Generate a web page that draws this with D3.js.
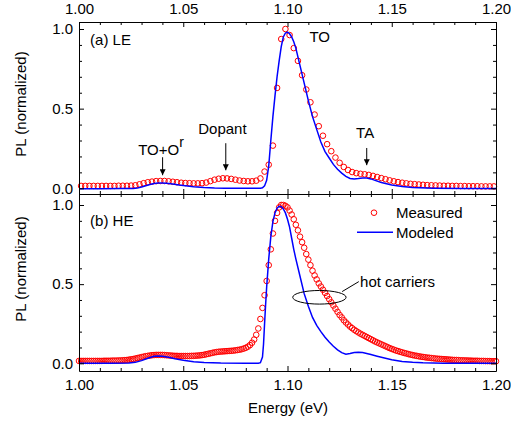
<!DOCTYPE html>
<html>
<head>
<meta charset="utf-8">
<script src="https://cdn.jsdelivr.net/npm/d3@7"></script>
<style>
  body { margin: 0; background: #fff; }
  svg text { font-family: "Liberation Sans", Arial, sans-serif; font-size: 15px; fill: #000; }
</style>
</head>
<body>
<div id="chart"></div>
<script>
// ---- data ----
// panel (a) LE, measured: one point every 2 meV starting at 1.001 eV
const measuredAStart = 1.001
const measuredAStep = 0.002
const measuredA = [
  0.015, 0.015, 0.015, 0.015, 0.015, 0.015, 0.015, 0.015, 0.015, 0.016,
  0.016, 0.016, 0.017, 0.019, 0.025, 0.032, 0.038, 0.042, 0.045, 0.046,
  0.046, 0.044, 0.041, 0.038, 0.035, 0.033, 0.032, 0.031, 0.031, 0.032,
  0.036, 0.045, 0.054, 0.060, 0.063, 0.062, 0.059, 0.054, 0.049, 0.046,
  0.044, 0.044, 0.048, 0.062, 0.105, 0.148, 0.268, 0.630, 0.937, 1.000,
  0.962, 0.880, 0.800, 0.710, 0.620, 0.540, 0.463, 0.390, 0.330, 0.277,
  0.233, 0.193, 0.160, 0.134, 0.115, 0.102, 0.095, 0.091, 0.088, 0.084,
  0.078, 0.071, 0.064, 0.057, 0.050, 0.044, 0.039, 0.035, 0.031, 0.028,
  0.026, 0.024, 0.022, 0.020, 0.019, 0.018, 0.017, 0.016, 0.016, 0.015,
  0.015, 0.014, 0.014, 0.013, 0.013, 0.013, 0.012, 0.012, 0.012, 0.012
]

// panel (a) LE, modeled
const modelAEnergy = [
  1.000, 1.010, 1.020, 1.026, 1.028, 1.030, 1.032, 1.034, 1.036, 1.038,
  1.040, 1.042, 1.045, 1.048, 1.051, 1.055, 1.060, 1.065, 1.070, 1.080,
  1.087, 1.088, 1.089, 1.090, 1.091, 1.092, 1.093, 1.094, 1.095, 1.096,
  1.097, 1.098, 1.099, 1.100, 1.101, 1.102, 1.103, 1.104, 1.106, 1.108,
  1.110, 1.112, 1.114, 1.116, 1.118, 1.120, 1.122, 1.124, 1.126, 1.128,
  1.130, 1.132, 1.134, 1.136, 1.138, 1.140, 1.142, 1.145, 1.150, 1.155,
  1.160, 1.170, 1.185, 1.200
]
const modelA = [
  -0.003, -0.003, -0.002, -0.001, 0.002, 0.008, 0.016, 0.024, 0.030, 0.033,
  0.034, 0.032, 0.027, 0.021, 0.016, 0.010, 0.005, 0.002, 0.001, 0.000,
  0.000, 0.003, 0.015, 0.050, 0.140, 0.300, 0.450, 0.580, 0.700, 0.800,
  0.890, 0.950, 0.975, 0.980, 0.970, 0.950, 0.920, 0.880, 0.770, 0.660,
  0.550, 0.450, 0.370, 0.290, 0.230, 0.190, 0.150, 0.120, 0.095, 0.075,
  0.062, 0.058, 0.061, 0.065, 0.065, 0.059, 0.050, 0.037, 0.021, 0.011,
  0.005, 0.001, -0.001, -0.002
]

// panel (b) HE, measured: one point every 1 meV starting at 1.000 eV
const measuredBStart = 1.000
const measuredBStep = 0.001
const measuredB = [
  0.015, 0.015, 0.015, 0.015, 0.015, 0.015, 0.015, 0.015, 0.015, 0.015,
  0.015, 0.015, 0.016, 0.016, 0.016, 0.016, 0.017, 0.017, 0.017, 0.018,
  0.018, 0.019, 0.020, 0.021, 0.023, 0.025, 0.027, 0.030, 0.033, 0.036,
  0.039, 0.042, 0.045, 0.047, 0.049, 0.051, 0.052, 0.053, 0.053, 0.053,
  0.053, 0.052, 0.051, 0.050, 0.049, 0.048, 0.047, 0.047, 0.046, 0.046,
  0.046, 0.046, 0.046, 0.046, 0.047, 0.047, 0.048, 0.049, 0.050, 0.052,
  0.054, 0.057, 0.060, 0.063, 0.066, 0.069, 0.071, 0.073, 0.074, 0.075,
  0.076, 0.077, 0.078, 0.079, 0.080, 0.082, 0.084, 0.086, 0.089, 0.093,
  0.098, 0.105, 0.115, 0.130, 0.150, 0.180, 0.220, 0.280, 0.350, 0.430,
  0.520, 0.620, 0.720, 0.820, 0.900, 0.950, 0.985, 1.000, 1.000, 0.995,
  0.985, 0.965, 0.940, 0.910, 0.875, 0.840, 0.800, 0.765, 0.730, 0.690,
  0.655, 0.620, 0.585, 0.555, 0.530, 0.505, 0.485, 0.465, 0.445, 0.425,
  0.405, 0.385, 0.365, 0.345, 0.325, 0.305, 0.290, 0.272, 0.258, 0.245,
  0.232, 0.222, 0.212, 0.203, 0.195, 0.187, 0.180, 0.173, 0.166, 0.159,
  0.152, 0.145, 0.138, 0.132, 0.126, 0.120, 0.114, 0.108, 0.102, 0.096,
  0.091, 0.086, 0.081, 0.077, 0.073, 0.069, 0.065, 0.062, 0.058, 0.055,
  0.052, 0.049, 0.047, 0.044, 0.042, 0.040, 0.038, 0.036, 0.035, 0.033,
  0.032, 0.030, 0.029, 0.028, 0.027, 0.026, 0.025, 0.024, 0.023, 0.022,
  0.021, 0.021, 0.020, 0.019, 0.019, 0.018, 0.018, 0.017, 0.017, 0.016,
  0.016, 0.016, 0.015, 0.015, 0.015, 0.014, 0.014, 0.014, 0.013, 0.013,
  0.013
]

// panel (b) HE, modeled
const modelBEnergy = [
  1.000, 1.015, 1.024, 1.027, 1.030, 1.033, 1.036, 1.038, 1.040, 1.043,
  1.046, 1.050, 1.055, 1.060, 1.068, 1.080, 1.086, 1.087, 1.088, 1.0885,
  1.089, 1.0895, 1.090, 1.091, 1.092, 1.093, 1.094, 1.095, 1.096, 1.097,
  1.098, 1.099, 1.100, 1.101, 1.102, 1.103, 1.104, 1.106, 1.108, 1.110,
  1.112, 1.114, 1.116, 1.118, 1.120, 1.122, 1.124, 1.126, 1.128, 1.130,
  1.132, 1.134, 1.136, 1.138, 1.140, 1.143, 1.146, 1.150, 1.155, 1.160,
  1.165, 1.175, 1.200
]
const modelB = [
  0.000, 0.000, 0.002, 0.006, 0.017, 0.032, 0.044, 0.046, 0.044, 0.038,
  0.029, 0.019, 0.010, 0.005, 0.002, 0.001, 0.001, 0.004, 0.040, 0.120,
  0.250, 0.370, 0.480, 0.660, 0.800, 0.895, 0.950, 0.980, 0.992, 0.990,
  0.975, 0.950, 0.910, 0.860, 0.790, 0.720, 0.660, 0.550, 0.440, 0.360,
  0.290, 0.240, 0.200, 0.165, 0.135, 0.108, 0.085, 0.067, 0.058, 0.062,
  0.068, 0.070, 0.068, 0.062, 0.055, 0.045, 0.035, 0.022, 0.011, 0.006,
  0.003, 0.001, 0.000
]

const xTicks = [1.00, 1.05, 1.10, 1.15, 1.20]
const yTicks = [0.0, 0.5, 1.0]

// ---- layout ----
const W = 511, H = 425
const svg = d3.select("#chart").append("svg")
  .attr("width", W)
  .attr("height", H)

const x = d3.scaleLinear().domain([1.0, 1.2]).range([79, 496])
const xMinor = d3.range(1.0, 1.2001, 0.01).filter(d => Math.abs(d * 20 - Math.round(d * 20)) > 1e-6)
const yMinor = [0.1, 0.2, 0.3, 0.4, 0.6, 0.7, 0.8, 0.9]
const dotR = 2.8

const panelA = {
  top: 22, bottom: 194,
  y: d3.scaleLinear().domain([0, 1]).range([188.3, 29]),
  measured: measuredA.map((v, i) => [measuredAStart + i * measuredAStep, v]),
  model: modelAEnergy.map((e, i) => [e, modelA[i]])
}
const panelB = {
  top: 194, bottom: 371,
  y: d3.scaleLinear().domain([0, 1]).range([363.3, 205]),
  measured: measuredB.map((v, i) => [measuredBStart + i * measuredBStep, v]),
  model: modelBEnergy.map((e, i) => [e, modelB[i]])
}

const font = '"Liberation Sans", Arial, sans-serif'

function styleAxis(g) {
  g.attr("font-size", 15).attr("font-family", font)
  g.selectAll("line").attr("stroke", "#000")
  g.selectAll("path").attr("stroke", "#000")
}

function drawFrame(p, labelTop, labelBottom) {
  const g = svg.append("g")

  // top edge
  g.append("g").attr("transform", `translate(0,${p.top})`)
    .call(d3.axisTop(x).tickValues(xTicks).tickSize(-5).tickSizeOuter(0).tickPadding(8)
      .tickFormat(labelTop ? d3.format(".2f") : ""))
    .call(styleAxis)
  g.append("g").attr("transform", `translate(0,${p.top})`)
    .call(d3.axisTop(x).tickValues(xMinor).tickSize(-3).tickFormat(""))
    .call(a => a.select(".domain").remove())
    .call(styleAxis)

  // bottom edge
  g.append("g").attr("transform", `translate(0,${p.bottom})`)
    .call(d3.axisBottom(x).tickValues(xTicks).tickSize(-5).tickSizeOuter(0).tickPadding(8)
      .tickFormat(labelBottom ? d3.format(".2f") : ""))
    .call(styleAxis)
  g.append("g").attr("transform", `translate(0,${p.bottom})`)
    .call(d3.axisBottom(x).tickValues(xMinor).tickSize(-3).tickFormat(""))
    .call(a => a.select(".domain").remove())
    .call(styleAxis)

  // the y scale stretched to the frame
  const yFrame = p.y.copy().domain([p.y.invert(p.bottom), p.y.invert(p.top)]).range([p.bottom, p.top])

  g.append("g").attr("transform", `translate(${x.range()[0]},0)`)
    .call(d3.axisLeft(yFrame).tickValues(yTicks).tickSize(-5).tickSizeOuter(0).tickPadding(6)
      .tickFormat(d3.format(".1f")))
    .call(styleAxis)
  g.append("g").attr("transform", `translate(${x.range()[0]},0)`)
    .call(d3.axisLeft(yFrame).tickValues(yMinor).tickSize(-3).tickFormat(""))
    .call(a => a.select(".domain").remove())
    .call(styleAxis)

  g.append("g").attr("transform", `translate(${x.range()[1]},0)`)
    .call(d3.axisRight(yFrame).tickValues(yTicks).tickSize(-5).tickSizeOuter(0).tickFormat(""))
    .call(styleAxis)
  g.append("g").attr("transform", `translate(${x.range()[1]},0)`)
    .call(d3.axisRight(yFrame).tickValues(yMinor).tickSize(-3).tickFormat(""))
    .call(a => a.select(".domain").remove())
    .call(styleAxis)
}

function drawSeries(p) {
  const line = d3.line()
    .x(d => x(d[0]))
    .y(d => p.y(d[1]))

  svg.append("g").selectAll("circle")
    .data(p.measured)
    .join("circle")
      .attr("cx", d => x(d[0]))
      .attr("cy", d => p.y(d[1]))
      .attr("r", dotR)
      .attr("fill", "none")
      .attr("stroke", "#ff0000")
      .attr("stroke-width", 1)

  svg.append("path")
    .datum(p.model)
    .attr("fill", "none")
    .attr("stroke", "#0000ff")
    .attr("stroke-width", 1.5)
    .attr("d", line)
}

drawSeries(panelA)
drawSeries(panelB)
drawFrame(panelA, true, false)
drawFrame(panelB, false, true)

// ---- annotations ----
const defs = svg.append("defs")
defs.append("marker")
  .attr("id", "head")
  .attr("viewBox", "0 0 10 10")
  .attr("refX", 10).attr("refY", 5)
  .attr("markerWidth", 6).attr("markerHeight", 6)
  .attr("markerUnits", "userSpaceOnUse")
  .attr("orient", "auto")
  .append("path").attr("d", "M0,0L10,5L0,10Z").attr("fill", "#000")

function arrow(p, e, v0, v1) {
  svg.append("line")
    .attr("x1", x(e)).attr("x2", x(e))
    .attr("y1", p.y(v0)).attr("y2", p.y(v1))
    .attr("stroke", "#000").attr("stroke-width", 1)
    .attr("marker-end", "url(#head)")
}

function label(p, e, v, txt) {
  return svg.append("text").attr("x", x(e)).attr("y", p.y(v)).text(txt)
}

label(panelA, 1.0053, 0.90, "(a) LE")
label(panelA, 1.1105, 0.92, "TO")
label(panelA, 1.1329, 0.313, "TA")
label(panelA, 1.0572, 0.344, "Dopant")
const toLabel = svg.append("text").attr("x", x(1.0284)).attr("y", panelA.y(0.206))
toLabel.append("tspan").text("TO+O")
toLabel.append("tspan").attr("dy", -8).attr("font-size", 14).text("r")

arrow(panelA, 1.0401, 0.195, 0.082)
arrow(panelA, 1.0704, 0.283, 0.113)
arrow(panelA, 1.138, 0.253, 0.145)

label(panelB, 1.0053, 0.867, "(b) HE")

// hot carriers ellipse
const ell = { e: 1.1153, v: 0.417, de: 0.0128, dv: 0.043 }
svg.append("ellipse")
  .attr("cx", x(ell.e)).attr("cy", panelB.y(ell.v))
  .attr("rx", x(ell.e + ell.de) - x(ell.e))
  .attr("ry", panelB.y(ell.v - ell.dv) - panelB.y(ell.v))
  .attr("fill", "none").attr("stroke", "#000").attr("stroke-width", 1)
svg.append("line")
  .attr("x1", x(1.1262)).attr("y1", panelB.y(0.453))
  .attr("x2", x(1.1342)).attr("y2", panelB.y(0.516))
  .attr("stroke", "#000").attr("stroke-width", 1)
label(panelB, 1.1348, 0.48, "hot carriers")

// legend
const lg = svg.append("g")
lg.append("circle").attr("cx", 374).attr("cy", 212.7).attr("r", dotR)
  .attr("fill", "none").attr("stroke", "#ff0000")
lg.append("text").attr("x", 396).attr("y", 218).text("Measured")
lg.append("line").attr("x1", 357).attr("x2", 393).attr("y1", 232.3).attr("y2", 232.3)
  .attr("stroke", "#0000ff").attr("stroke-width", 1.5)
lg.append("text").attr("x", 396).attr("y", 237.5).text("Modeled")

// axis titles
svg.append("text")
  .attr("text-anchor", "middle")
  .attr("transform", "translate(26,104) rotate(-90)")
  .text("PL (normalized)")
svg.append("text")
  .attr("text-anchor", "middle")
  .attr("transform", "translate(26,269) rotate(-90)")
  .text("PL (normalized)")
svg.append("text")
  .attr("text-anchor", "middle")
  .attr("x", 288).attr("y", 413)
  .text("Energy (eV)")
</script>
</body>
</html>
